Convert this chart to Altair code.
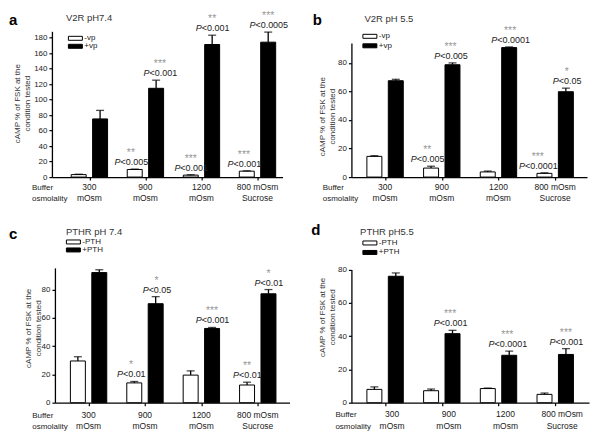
import altair as alt
import pandas as pd

FONT = "Liberation Sans"

# ---------------- data ----------------
groups = ["300\nmOsm", "900\nmOsm", "1200\nmOsm", "800 mOsm\nSucrose"]
group_x = [1, 2, 3, 4]

# panel a : V2R pH7.4
a_series = ["-vp", "+vp"]
a_minus = [3.2, 9.8, 2.5, 7.6]
a_minus_err = [0.5, 0.5, 0.5, 0.5]
a_plus = [75.0, 114.5, 171.0, 174.0]
a_plus_err = [11.0, 10.5, 12.0, 13.0]
a_minus_stars = ["", "**", "***", "***"]
a_minus_p = ["", "<0.005", "<0.001", "<0.001"]
a_plus_stars = ["", "***", "**", "***"]
a_plus_p = ["", "<0.001", "<0.001", "<0.0005"]

# panel b : V2R pH 5.5
b_series = ["-vp", "+vp"]
b_minus = [14.5, 6.3, 3.6, 2.6]
b_minus_err = [0.5, 1.3, 0.6, 0.4]
b_plus = [67.5, 78.7, 90.7, 59.8]
b_plus_err = [1.0, 1.3, 0.5, 2.5]
b_minus_stars = ["", "**", "", "***"]
b_minus_p = ["", "<0.005", "", "<0.0001"]
b_plus_stars = ["", "***", "***", "*"]
b_plus_p = ["", "<0.005", "<0.0001", "<0.05"]

# panel c : PTHR pH 7.4
c_series = ["-PTH", "+PTH"]
c_minus = [29.5, 14.0, 19.5, 12.5]
c_minus_err = [3.0, 1.0, 3.0, 2.0]
c_plus = [92.0, 70.0, 52.5, 77.0]
c_plus_err = [2.0, 5.0, 0.7, 3.0]
c_minus_stars = ["", "*", "", "**"]
c_minus_p = ["", "<0.01", "", "<0.01"]
c_plus_stars = ["", "*", "***", "*"]
c_plus_p = ["", "<0.05", "<0.001", "<0.01"]

# panel d : PTHR pH5.5
d_series = ["-PTH", "+PTH"]
d_minus = [8.0, 7.2, 8.5, 5.0]
d_minus_err = [1.5, 1.0, 0.3, 0.8]
d_plus = [76.0, 41.5, 28.5, 29.0]
d_plus_err = [2.0, 2.0, 2.5, 3.5]
d_minus_stars = ["", "", "", ""]
d_minus_p = ["", "", "", ""]
d_plus_stars = ["", "***", "***", "***"]
d_plus_p = ["", "<0.001", "<0.0001", "<0.001"]

y_ticks_a = [0, 20, 40, 60, 80, 100, 120, 140, 160, 180]
y_ticks_bcd = [0, 20, 40, 60, 80]
y_title = ["cAMP % of  FSK at the", "condition tested"]


def table(series, minus, minus_err, plus, plus_err, ms, mp, ps, pp):
    rows = []
    for i, g in enumerate(groups):
        rows.append(dict(group=g, gx=group_x[i], series=series[0], side=-1,
                         value=minus[i], err=minus_err[i], stars=ms[i], p=mp[i]))
        rows.append(dict(group=g, gx=group_x[i], series=series[1], side=1,
                         value=plus[i], err=plus_err[i], stars=ps[i], p=pp[i]))
    return pd.DataFrame(rows)


def panel(df, series, letter, title, L):
    ppu = L["ppu"]
    off = 11.2 / ppu
    nud = " + ".join(f"((datum.gx == {g} && datum.side == {s}) ? {v} : 0)"
                     for g, s, v in L["nudge"]) or "0"
    xs = alt.Scale(domain=L["xdom"], range=L["xrng"], nice=False, zero=False)
    ys = alt.Scale(domain=L["ydom"], range=L["yrng"], nice=False, zero=False)
    xaxis = alt.Axis(values=[1, 2, 3, 4], labels=False, tickSize=3, title=None,
                     grid=False, domainColor="black", tickColor="black",
                     domainWidth=1.3, tickWidth=1.2)
    yaxis = alt.Axis(values=L["yticks"], tickSize=3, labelPadding=2, grid=False,
                     domainColor="black", tickColor="black", labelColor="#222",
                     domainWidth=1.3, tickWidth=1.2,
                     labelFontSize=8, labelFont=FONT, offset=L.get("yoff", 0),
                     title=y_title, titleFontSize=8, titleFont=FONT,
                     titleFontWeight="normal", titleColor="#333",
                     titleX=L["tx"], titleY=L["ty"], titleAngle=270,
                     titleAlign="center", titleBaseline="alphabetic",
                     titleLineHeight=10)

    base = alt.Chart(df).transform_calculate(
        pos=f"datum.gx + datum.side * {off}",
        top="datum.value + datum.err",
    ).transform_calculate(
        apos=f"datum.pos + ({nud}) / {ppu}",
    ).transform_calculate(
        px=f"datum.apos + (6 - (13.76 + 5 * (length(datum.p) - 2)) / 2) / {ppu}",
    )

    def X(f):
        return alt.X(f"{f}:Q", scale=xs, axis=xaxis)

    def Y(f):
        return alt.Y(f"{f}:Q", scale=ys, axis=yaxis)

    legend = alt.Legend(orient="none", legendX=L["lx"], legendY=L["ly"], title=None,
                        symbolType="M-2,-0.57H2V0.57H-2Z", symbolSize=49,
                        symbolStrokeColor="black", symbolStrokeWidth=1,
                        labelFontSize=8, labelFont=FONT, labelColor="#222",
                        labelOffset=5, rowPadding=L["rp"], padding=0)

    bars = base.mark_bar(size=15, orient="vertical", stroke="black", strokeWidth=1).encode(
        x=X("pos"), y=Y("value"),
        fill=alt.Fill("series:N", scale=alt.Scale(domain=series, range=["white", "black"]),
                      legend=legend),
    )
    rules = base.mark_rule(color="black", strokeWidth=1.3).encode(
        x=X("pos"), y=Y("value"), y2="top:Q")
    caps = base.mark_tick(orient="horizontal", size=8, thickness=1.3, color="black").encode(
        x=X("pos"), y=Y("top"))

    ann = base.transform_filter("datum.p != ''")
    stars = ann.mark_text(align="center", baseline="alphabetic", dy=-13, fontSize=10.5,
                          color="#999", font=FONT).encode(x=X("apos"), y=Y("top"), text="stars:N")
    p_it = ann.mark_text(text="P", fontStyle="italic", align="right", baseline="alphabetic",
                         dy=-4, fontSize=9, color="#222", font=FONT).encode(x=X("px"), y=Y("top"))
    p_rest = ann.mark_text(align="left", baseline="alphabetic", dy=-4, fontSize=9,
                           color="#222", font=FONT).encode(x=X("px"), y=Y("top"), text="p:N")

    cats = alt.Chart(pd.DataFrame({"gx": group_x, "label": groups})).mark_text(
        align="center", baseline="alphabetic", fontSize=8.5, lineBreak="\n", lineHeight=11.5,
        dx=L.get("catdx", 0), color="#222", font=FONT).encode(
        x=X("gx"), y=alt.value(L["caty"]), text="label:N")

    one = lambda s: alt.Chart(pd.DataFrame({"t": [s]}))
    let = one(letter).mark_text(align="left", baseline="alphabetic", fontSize=15,
                                fontWeight="bold", color="black", font=FONT).encode(
        x=alt.value(L["letx"]), y=alt.value(L["lety"]), text="t:N")
    ttl = one(title).mark_text(align="left", baseline="alphabetic", fontSize=9.5,
                               color="#333", font=FONT).encode(
        x=alt.value(L["titx"]), y=alt.value(L["tity"]), text="t:N")
    buf = one("Buffer\nosmolality").mark_text(align="left", baseline="alphabetic", fontSize=8,
                                             lineBreak="\n", lineHeight=11.5, color="#222",
                                             font=FONT).encode(
        x=alt.value(L["bufx"]), y=alt.value(L["caty"]), text="t:N")

    return alt.layer(bars, rules, caps, stars, p_it, p_rest, cats, let, ttl, buf).properties(
        width=240, height=L["h"])


LA = dict(ppu=58.67, xdom=[0.4205, 4.3578], xrng=[0, 231], ydom=[0, 188], yrng=[146, 0],
          yticks=y_ticks_a, h=146, tx=-32.5, ty=72, lx=19.5, ly=3, rp=0, caty=158.7,
          letx=-43, lety=-6, titx=14, tity=-10.7, bufx=-20,
          nudge=[(2, -1, -4), (4, -1, -3), (2, 1, 4)])
LB = dict(ppu=59.3, xdom=[0.4941, 4.4739], xrng=[0, 236], ydom=[0, 94], yrng=[146, 11.6],
          yticks=y_ticks_bcd, h=146, tx=-27, ty=85, lx=14.5, ly=1, rp=1.5, caty=158.7,
          letx=-38.7, lety=-6, titx=13, tity=-9.7, bufx=-28.7,
          nudge=[(2, -1, -4), (2, 1, -2), (4, -1, -7), (3, 1, 1), (4, 1, 1)])
LC = dict(ppu=59.0, xdom=[0.4915, 4.4746], xrng=[3, 238], ydom=[0, 95.3], yrng=[135, 0],
          yticks=y_ticks_bcd, h=135, tx=-24, ty=60, lx=17.5, ly=-30, rp=0, caty=150, yoff=-3,
          letx=-43, lety=-29.3, titx=14, tity=-32.5, bufx=-19.7,
          nudge=[(2, -1, -3.5), (2, 1, 1)])
LD = dict(ppu=59.3, xdom=[0.4941, 4.5076], xrng=[0, 238], ydom=[0, 80], yrng=[135, 1.7],
          yticks=y_ticks_bcd, h=135, tx=-27, ty=49, lx=14.5, ly=-29, rp=1.5, caty=149.5,
          catdx=7, letx=-40.3, lety=-33.3, titx=8.7, tity=-33.3, bufx=-16,
          nudge=[(2, 1, -2.5), (3, 1, -2)])

A = panel(table(a_series, a_minus, a_minus_err, a_plus, a_plus_err,
                a_minus_stars, a_minus_p, a_plus_stars, a_plus_p), a_series, "a", "V2R pH7.4", LA)
B = panel(table(b_series, b_minus, b_minus_err, b_plus, b_plus_err,
                b_minus_stars, b_minus_p, b_plus_stars, b_plus_p), b_series, "b", "V2R pH 5.5", LB)
C = panel(table(c_series, c_minus, c_minus_err, c_plus, c_plus_err,
                c_minus_stars, c_minus_p, c_plus_stars, c_plus_p), c_series, "c", "PTHR pH 7.4", LC)
D = panel(table(d_series, d_minus, d_minus_err, d_plus, d_plus_err,
                d_minus_stars, d_minus_p, d_plus_stars, d_plus_p), d_series, "d", "PTHR pH5.5", LD)

chart = alt.concat(A, B, C, D, columns=2, spacing={"row": 91, "column": 60},
                   bounds="flush").resolve_scale(
    fill="independent").resolve_legend(fill="independent").properties(
    padding={"left": 1, "top": 2, "right": 2, "bottom": 2},
    background="white",
).configure(font=FONT).configure_view(stroke=None)

chart.save("out.html", embed_options={"renderer": "svg", "actions": False})
